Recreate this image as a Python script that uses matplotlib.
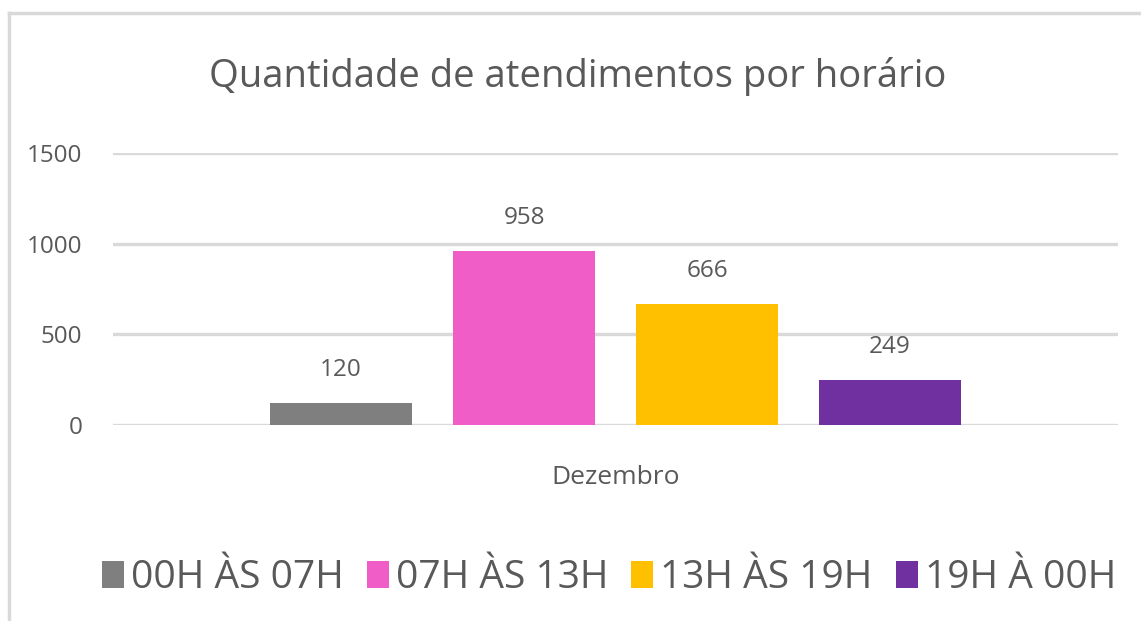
import matplotlib
matplotlib.use('Agg')
import matplotlib.pyplot as plt
from matplotlib.patches import Patch
from matplotlib.lines import Line2D

plt.rcParams['font.family'] = ['Open Sans', 'DejaVu Sans']

# data
category = ['Dezembro']
series = ['00H ÀS 07H', '07H ÀS 13H', '13H ÀS 19H', '19H À 00H']
values = [120, 958, 666, 249]
colors = ['#7f7f7f', '#f05dc6', '#ffc000', '#7030a0']
yticks = [0, 500, 1000, 1500]

text_color = '#595959'
grid_color = '#d9d9d9'

fig = plt.figure(figsize=(11.41, 6.21), dpi=100)
ax = fig.add_axes([113/1141, 1 - 425/621, 1005/1141, 272/621])

# clustered bars around the single category
spacing = 0.182
width = 0.142
for i, (name, v, c) in enumerate(zip(series, values, colors)):
    x = 0 + (i - 1.5) * spacing
    bars = ax.bar([x], [v], width=width, color=c, label=name, zorder=3)
    ax.bar_label(bars, labels=[str(v)], padding=15, fontsize=17.5, color=text_color)

ax.set_xlim(-0.5, 0.5)
ax.set_ylim(0, 1500)
ax.set_yticks(yticks)
ax.set_yticklabels([str(t) for t in yticks], fontsize=17.5, color=text_color)
ax.set_xticks([0])
ax.set_xticklabels(category, fontsize=19, color=text_color)
ax.tick_params(axis='both', length=0)
ax.tick_params(axis='y', pad=22)
ax.tick_params(axis='x', pad=29)
ax.yaxis.grid(True, color=grid_color, lw=2.4, zorder=0)
ax.set_axisbelow(True)
for s in ax.spines.values():
    s.set_visible(False)

fig.text(578/1141, 1 - 77/621, 'Quantidade de atendimentos por horário',
         ha='center', va='center', fontsize=27.5, color=text_color)

# chart border (only top and left visible in the crop)
fig.add_artist(Line2D([9/1141, 9/1141], [0, 1 - 13/621], color=grid_color, lw=2.5,
                      transform=fig.transFigure))
fig.add_artist(Line2D([9/1141, 1], [1 - 13/621, 1 - 13/621], color=grid_color, lw=2.5,
                      transform=fig.transFigure))

handles = [Patch(facecolor=c, label=n) for n, c in zip(series, colors)]
fig.legend(handles=handles, loc='center', bbox_to_anchor=(609/1141, 1 - 578/621),
           ncol=4, frameon=False, fontsize=28, labelcolor=text_color,
           handlelength=0.56, handleheight=0.7, handletextpad=0.18,
           columnspacing=0.6, borderaxespad=0)

fig.savefig('out.png', dpi=100)
